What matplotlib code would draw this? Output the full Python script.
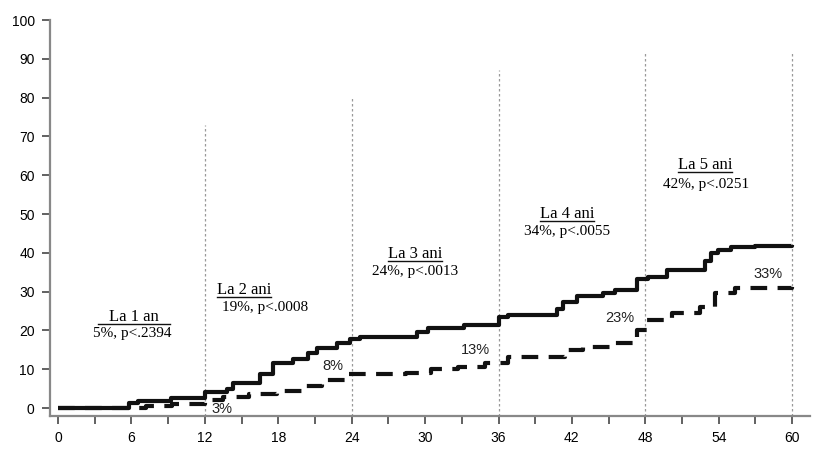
import matplotlib
matplotlib.use("Agg")
import matplotlib.pyplot as plt
from matplotlib.ticker import MultipleLocator

# curba continua (pas cu pas)
solid_x = [0, 5.8, 6.5, 9.2, 12, 13.8, 14.3, 16.5, 17.6, 19.2, 20.4, 21.2, 22.8, 23.9, 24.7,
           29.3, 30.2, 33.2, 36, 36.8, 40.8, 41.3, 42.4, 44.5, 45.5, 47.3, 48.2, 49.8,
           52.9, 53.4, 53.9, 55.0, 57, 60]
solid_y = [0, 1.3, 1.8, 2.6, 4.2, 5.0, 6.4, 8.8, 11.6, 12.6, 14.2, 15.4, 16.7, 17.8, 18.3,
           19.6, 20.6, 21.4, 23.4, 24.0, 25.5, 27.3, 28.8, 29.6, 30.4, 33.3, 33.8, 35.6,
           38.0, 39.9, 40.7, 41.5, 41.8, 42.0]

# curba intrerupta
dash_x = [0, 7.2, 9.3, 12, 13.5, 15.6, 17.9, 20.1, 21.6, 23.6, 28.4, 30.5, 32.7, 34.9, 36.8,
          41.4, 42.9, 45.5, 47.3, 48.1, 50.2, 52.5, 53.7, 55.3, 60]
dash_y = [0, 0.4, 1.0, 2.0, 2.9, 3.6, 4.4, 5.6, 7.2, 8.7, 9.0, 10.0, 10.6, 11.6, 13.1,
          15.0, 15.6, 16.8, 20.0, 22.7, 24.4, 26.0, 29.6, 30.9, 31.2]

# linii verticale la fiecare an
year_x = [12, 24, 36, 48, 60]
year_top = [73, 80, 87, 92, 92]

titles = ["La 1 an", "La 2 ani", "La 3 ani", "La 4 ani", "La 5 ani"]
stats = ["5%, p<.2394", "19%, p<.0008", "24%, p<.0013", "34%, p<.0055", "42%, p<.0251"]
small_labels = ["3%", "8%", "13%", "23%", "33%"]

serif = ["Liberation Serif", "DejaVu Serif"]
narrow = ["Liberation Sans Narrow", "Liberation Sans", "DejaVu Sans"]

fig = plt.figure(figsize=(8.2, 4.58), dpi=100)
ax = fig.add_axes([0.061, 0.0917, 0.927, 0.8646])
ax.set_xlim(-0.654, 61.47)
ax.set_ylim(-2.06, 100)

ax.vlines(year_x, -2.06, year_top, colors="#999999", linestyles=(0, (2, 2)), linewidth=0.9)

ax.step(solid_x, solid_y, where="post", color="#111111", linewidth=3.0, solid_capstyle="butt")
ax.step(dash_x, dash_y, where="post", color="#111111", linewidth=3.0, dashes=(4.0, 2.5))

for s in ["top", "right"]:
    ax.spines[s].set_visible(False)
for s in ["left", "bottom"]:
    ax.spines[s].set_color("#888888")
    ax.spines[s].set_linewidth(1.6)

ax.xaxis.set_major_locator(MultipleLocator(6))
ax.xaxis.set_minor_locator(MultipleLocator(3))
ax.yaxis.set_major_locator(MultipleLocator(10))
ax.tick_params(which="both", direction="out", length=6, width=1.3, color="#555555",
               labelsize=10, pad=5)
for lab in ax.get_xticklabels() + ax.get_yticklabels():
    lab.set_family(narrow)

title_pos = [(6.2, 23.5), (15.2, 30.4), (29.2, 39.7), (41.6, 50.0), (52.9, 62.6)]
stat_pos = [(6.1, 19.1), (16.9, 25.8), (29.2, 35.1), (41.6, 45.6), (53.0, 57.7)]
small_pos = [(13.4, -0.3), (22.5, 10.8), (34.1, 15.0), (45.9, 23.2), (58.0, 34.5)]

title_texts = []
for t, (x, y) in zip(titles, title_pos):
    title_texts.append(ax.text(x, y, t, family=serif, fontsize=12, ha="center", va="center"))
for t, (x, y) in zip(stats, stat_pos):
    ax.text(x, y, t, family=serif, fontsize=11, ha="center", va="center")
for t, (x, y) in zip(small_labels, small_pos):
    ax.text(x, y, t, family=narrow, fontsize=10.5, ha="center", va="center", color="#222222")

# sublinierea titlurilor
fig.canvas.draw()
r = fig.canvas.get_renderer()
inv = ax.transData.inverted()
for i, txt in enumerate(title_texts):
    bb = txt.get_window_extent(r)
    x0, y0 = inv.transform((bb.x0, bb.y0))
    x1, _ = inv.transform((bb.x1, bb.y0))
    if i == 0:
        x0, x1 = x0 - 0.9, x1 + 0.9
    ax.plot([x0, x1], [y0 + 0.3, y0 + 0.3], color="#111111", linewidth=1.0)

fig.savefig("out.png", dpi=100)
